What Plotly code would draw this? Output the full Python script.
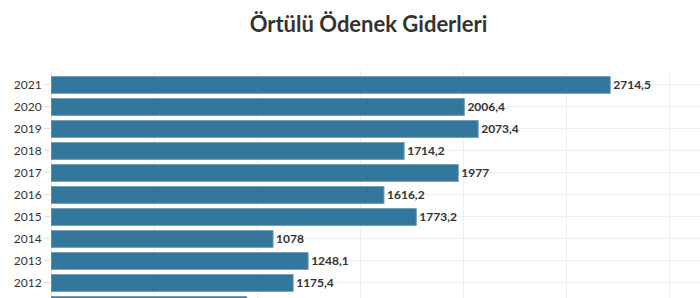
import plotly.graph_objects as go

years = [2021, 2020, 2019, 2018, 2017, 2016, 2015, 2014, 2013, 2012, 2011]
values = [2714.5, 2006.4, 2073.4, 1714.2, 1977, 1616.2, 1773.2, 1078, 1248.1, 1175.4, 950]
labels = [f"{v:g}".replace(".", ",") for v in values]
title = "Örtülü Ödenek Giderleri"

fig = go.Figure(go.Bar(
    x=values, y=years, orientation="h",
    marker=dict(color="rgb(51,118,156)", line=dict(color="rgba(120,160,185,1)", width=1)),
    text=labels, textposition="outside", cliponaxis=False,
    textfont=dict(family="Lato", size=12, color="#333333", weight="bold"),
    hoverinfo="skip",
))
fig.update_traces(selector=dict(type="bar"), insidetextanchor="end")
fig.update_layout(
    width=700, height=298,
    margin=dict(l=51, r=0, t=70, b=0),
    paper_bgcolor="white", plot_bgcolor="white",
    bargap=0.23,
    showlegend=False,
    title=dict(text=title, x=368.5/700, xanchor="center", y=1-24/298, yanchor="middle",
               font=dict(family="Lato", size=22, color="#333333", weight="bold")),
    xaxis=dict(range=[0, 3150], dtick=500, showgrid=True, gridcolor="#eeeeee", gridwidth=1,
               zeroline=True, zerolinecolor="#eeeeee", zerolinewidth=1,
               showticklabels=False, fixedrange=True),
    yaxis=dict(range=[2011.318, 2021.68], tickvals=years, ticktext=[str(y) for y in years],
               showgrid=True, gridcolor="#eeeeee", gridwidth=1,
               ticks="outside", ticklen=6, tickcolor="#dddddd",
               tickfont=dict(family="Lato", size=12, color="#333333"), zeroline=False),
)
fig.write_html("out.html")
